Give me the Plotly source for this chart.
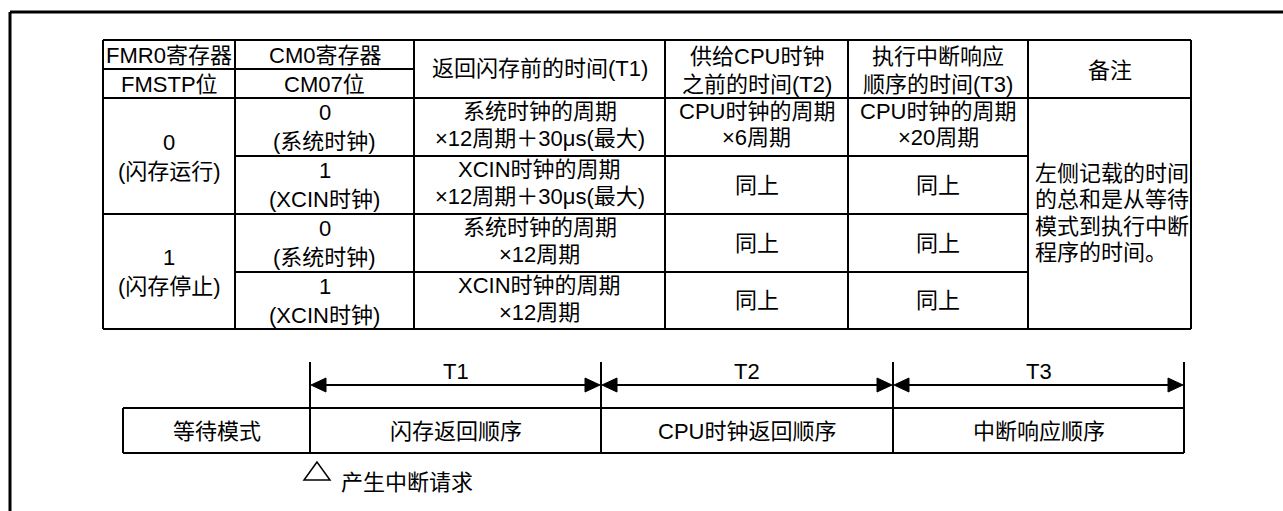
import plotly.graph_objects as go

W, H = 1283, 511

# ---------------- text content ----------------
header_cells = [
    ["FMR0寄存器", "FMSTP位"],
    ["CM0寄存器", "CM07位"],
    ["返回闪存前的时间(T1)"],
    ["供给CPU时钟", "之前的时间(T2)"],
    ["执行中断响应", "顺序的时间(T3)"],
    ["备注"],
]
fmstp_values = [["0", "(闪存运行)"], ["1", "(闪存停止)"]]
cm07_values = [["0", "(系统时钟)"], ["1", "(XCIN时钟)"], ["0", "(系统时钟)"], ["1", "(XCIN时钟)"]]
t1_values = [
    ["系统时钟的周期", "×12周期＋30μs(最大)"],
    ["XCIN时钟的周期", "×12周期＋30μs(最大)"],
    ["系统时钟的周期", "×12周期"],
    ["XCIN时钟的周期", "×12周期"],
]
t2_values = [["CPU时钟的周期", "×6周期"], ["同上"], ["同上"], ["同上"]]
t3_values = [["CPU时钟的周期", "×20周期"], ["同上"], ["同上"], ["同上"]]
remark_lines = ["左侧记载的时间", "的总和是从等待", "模式到执行中断", "程序的时间。"]
phase_labels = ["等待模式", "闪存返回顺序", "CPU时钟返回顺序", "中断响应顺序"]
interval_labels = ["T1", "T2", "T3"]
event_label = "产生中断请求"

# ---------------- geometry / style ----------------
FONT = "Liberation Sans, Arial, Noto Sans CJK SC, sans-serif"
FS = 22
BLACK = "#000000"
col_x = [103, 235, 414, 665, 848, 1028, 1191]
row_y = [40, 69, 98, 156, 214, 272, 329]
tick_x = [310, 601, 893, 1184]
box_left, box_top, box_bot = 123, 408, 453
tick_top, arrow_y = 362, 385

shapes = []
annotations = []


def line(x0, y0, x1, y1, w=2, color=BLACK):
    shapes.append(dict(type="line", xref="x", yref="y", x0=x0, y0=y0, x1=x1, y1=y1,
                       line=dict(color=color, width=w)))


def text(x, y, s, xanchor="center", size=FS):
    annotations.append(dict(x=x, y=y, xref="x", yref="y", text=s, showarrow=False,
                            xanchor=xanchor, yanchor="middle",
                            font=dict(family=FONT, size=size, color=BLACK)))


def cx(i):
    return (col_x[i] + col_x[i + 1]) / 2


# outer frame (left + top)
line(10, 12, W, 12, w=3)
line(10, 12, 10, H, w=3)

# table border
line(col_x[0], row_y[0], col_x[-1], row_y[0])
line(col_x[0], row_y[-1], col_x[-1], row_y[-1])
for x in col_x:
    line(x, row_y[0], x, row_y[-1])
line(col_x[0], row_y[1], col_x[2], row_y[1])
line(col_x[0], row_y[2], col_x[-1], row_y[2])
line(col_x[1], row_y[3], col_x[5], row_y[3])
line(col_x[0], row_y[4], col_x[5], row_y[4])
line(col_x[1], row_y[5], col_x[5], row_y[5])

# header text
for i in (0, 1):
    text(cx(i), 55, header_cells[i][0])
    text(cx(i), 84, header_cells[i][1])
text(cx(2), 68, header_cells[2][0])
for i in (3, 4):
    text(cx(i), 56, header_cells[i][0])
    text(cx(i), 84, header_cells[i][1])
text(cx(5), 70, header_cells[5][0])

# column 0 (merged pairs)
for k, vals in enumerate(fmstp_values):
    c = (row_y[2 + 2 * k] + row_y[4 + 2 * k]) / 2
    text(cx(0), c - 14, vals[0])
    text(cx(0), c + 15, vals[1])

# data rows
for r in range(4):
    top = row_y[2 + r]
    bot = row_y[3 + r]
    mid = (top + bot) / 2
    text(cx(1), top + 14, cm07_values[r][0])
    text(cx(1), top + 43, cm07_values[r][1])
    text(cx(2), top + 13, t1_values[r][0])
    text(cx(2), top + 40, t1_values[r][1])
    for ci, vals in ((3, t2_values[r]), (4, t3_values[r])):
        if len(vals) == 2:
            text(cx(ci), top + 13, vals[0])
            text(cx(ci), top + 39, vals[1])
        else:
            text(cx(ci), mid, vals[0])

# remarks
for k, s in enumerate(remark_lines):
    text(col_x[5] + 5, 173 + 26.5 * k, s, xanchor="left")

# ---------------- timing diagram ----------------
line(box_left, box_top, tick_x[-1], box_top)
line(box_left, box_bot, tick_x[-1], box_bot)
line(box_left, box_top, box_left, box_bot)
for x in tick_x:
    line(x, tick_top, x, box_bot)

AL, AH = 16, 7
for k in range(3):
    x0, x1 = tick_x[k], tick_x[k + 1]
    line(x0 + 4, arrow_y, x1 - 4, arrow_y)
    shapes.append(dict(type="path", xref="x", yref="y",
                       path=f"M {x0+1} {arrow_y} L {x0+AL} {arrow_y-AH} L {x0+AL} {arrow_y+AH} Z",
                       fillcolor=BLACK, line=dict(color=BLACK, width=1)))
    shapes.append(dict(type="path", xref="x", yref="y",
                       path=f"M {x1-1} {arrow_y} L {x1-AL} {arrow_y-AH} L {x1-AL} {arrow_y+AH} Z",
                       fillcolor=BLACK, line=dict(color=BLACK, width=1)))
    text((x0 + x1) / 2, 371, interval_labels[k])

seg_x = [box_left] + tick_x
for k, s in enumerate(phase_labels):
    text((seg_x[k] + seg_x[k + 1]) / 2, 431, s)

# interrupt request marker
shapes.append(dict(type="path", xref="x", yref="y",
                   path="M 317 462 L 304 480 L 330 480 Z",
                   fillcolor="rgba(0,0,0,0)", line=dict(color=BLACK, width=1.5)))
text(339, 482, event_label, xanchor="left")

fig = go.Figure()
fig.update_layout(
    width=W, height=H,
    margin=dict(l=0, r=0, t=0, b=0),
    paper_bgcolor="white", plot_bgcolor="white",
    xaxis=dict(range=[0, W], visible=False, fixedrange=True),
    yaxis=dict(range=[H, 0], visible=False, fixedrange=True),
    shapes=shapes,
    annotations=annotations,
    showlegend=False,
)
fig.write_html("out.html", config={"displayModeBar": False},
               post_script="document.body.style.margin='0';document.body.style.overflow='hidden';")
